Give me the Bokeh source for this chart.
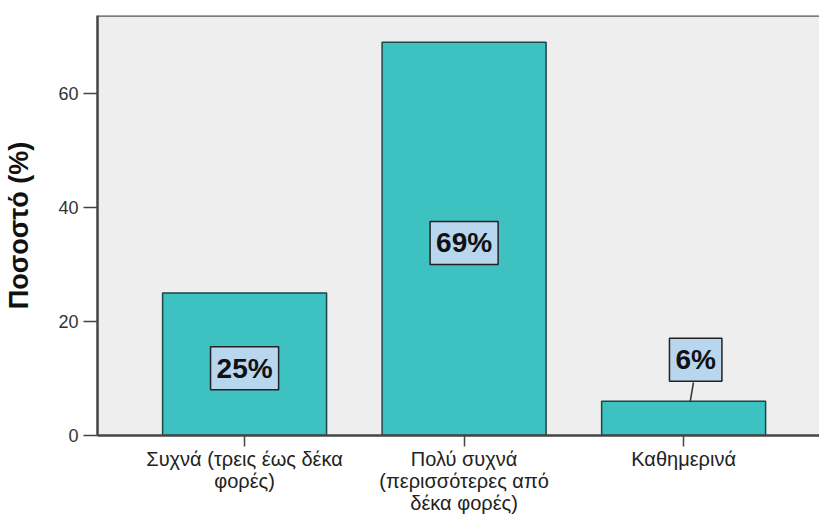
from bokeh.plotting import figure
from bokeh.models import FixedTicker, Span, Label, Range1d
from bokeh.embed import file_html
from bokeh.resources import INLINE

categories = ["Συχνά (τρεις έως δέκα\nφορές)",
              "Πολύ συχνά\n(περισσότερες από\nδέκα φορές)",
              "Καθημερινά"]
values = [25, 69, 6]
positions = [1, 2, 3]
yticks = [0, 20, 40, 60]

FONT = "Liberation Sans"
YMAX = 73.7

p = figure(width=819, height=517, output_backend="svg", toolbar_location=None,
           x_range=Range1d(0.330, 3.619), y_range=Range1d(0, YMAX),
           min_border_left=97, min_border_right=0, min_border_top=15, min_border_bottom=82)
p.background_fill_color = "#EEEEEE"
p.border_fill_color = "white"
p.outline_line_color = None
p.grid.visible = False

p.vbar(x=positions, top=values, width=0.747, bottom=0,
       fill_color="#3EC1C1", line_color="#1E4444", line_width=1.5)

# top frame line
p.add_layout(Span(location=YMAX, dimension="width", line_color="#555555", line_width=2.5))

# axes
p.xaxis.ticker = FixedTicker(ticks=positions)
p.xaxis.major_label_overrides = {pos: lab for pos, lab in zip(positions, categories)}
p.xaxis.major_label_text_font = FONT
p.xaxis.major_label_text_font_size = "20px"
p.xaxis.major_label_text_line_height = 1.02
p.xaxis.major_label_text_color = "#222222"
p.xaxis.major_tick_out = 11
p.xaxis.major_tick_in = 0
p.xaxis.minor_tick_line_color = None
p.xaxis.axis_line_color = "#444444"
p.xaxis.axis_line_width = 2.5
p.xaxis.major_tick_line_color = "#444444"
p.xaxis.major_tick_line_width = 1.5
p.xaxis.major_label_standoff = 1

p.yaxis.ticker = FixedTicker(ticks=yticks)
p.yaxis.major_label_text_font = FONT
p.yaxis.major_label_text_font_size = "18px"
p.yaxis.major_label_text_color = "#333333"
p.yaxis.major_tick_out = 14
p.yaxis.major_tick_in = 0
p.yaxis.minor_tick_line_color = None
p.yaxis.axis_line_color = "#444444"
p.yaxis.axis_line_width = 2.5
p.yaxis.major_tick_line_color = "#444444"
p.yaxis.major_tick_line_width = 1.5
p.yaxis.major_label_standoff = 5
p.yaxis.axis_label = "Ποσοστό (%)"
p.yaxis.axis_label_text_font = FONT
p.yaxis.axis_label_text_font_size = "27px"
p.yaxis.axis_label_text_font_style = "bold"
p.yaxis.axis_label_text_color = "#111111"
p.yaxis.axis_label_standoff = 21

# value labels
label_y = [values[0] / 2 - 0.7, values[1] / 2 - 0.7, values[2] + 7.3]
for pos, v, ly in zip(positions, values, label_y):
    p.add_layout(Label(x=pos + (0.055 if v < 10 else 0), y=ly, text=f"{v}%",
                       text_align="center", text_baseline="middle",
                       text_font=FONT, text_font_size="28px", text_font_style="bold",
                       text_color="#111111",
                       background_fill_color="#B8D6EE", border_line_color="#222222",
                       border_line_width=1.5, padding=6))
    if v < 10:
        p.segment(x0=[pos + 0.045], y0=[ly - 4.0], x1=[pos + 0.03], y1=[v],
                  line_color="#333333", line_width=1.5)

open("out.html", "w").write(file_html(p, INLINE))
